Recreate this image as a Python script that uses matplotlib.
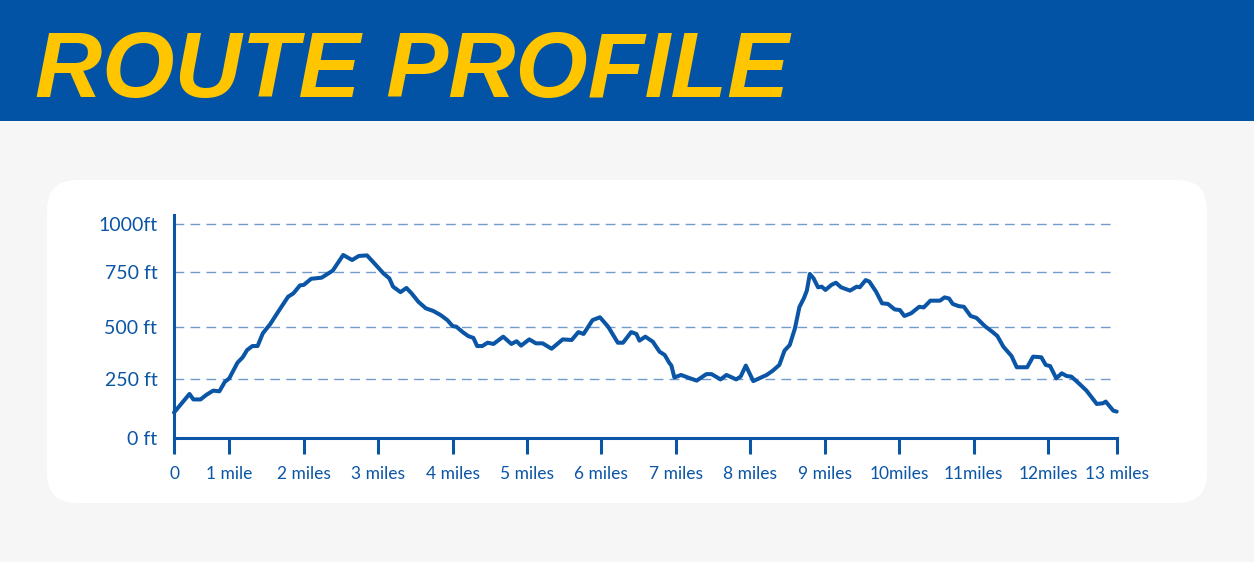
import numpy as np
import matplotlib
matplotlib.use("Agg")
import matplotlib.pyplot as plt
from matplotlib.patches import Rectangle, FancyBboxPatch
from matplotlib.transforms import IdentityTransform

# route data
miles = [0, 0.28, 0.35, 0.48, 0.59, 0.71, 0.82, 0.92, 1.0, 1.11, 1.18, 1.24, 1.31, 1.38, 1.45,
         1.55, 1.66, 1.79, 1.86, 1.95, 2.0, 2.10, 2.24, 2.39, 2.53, 2.65, 2.74, 2.85, 2.97, 3.07,
         3.15, 3.20, 3.30, 3.38, 3.45, 3.54, 3.64, 3.74, 3.84, 3.93, 4.0, 4.05, 4.14, 4.21, 4.28,
         4.33, 4.40, 4.47, 4.55, 4.68, 4.79, 4.86, 4.92, 5.03, 5.12, 5.21, 5.33, 5.48, 5.60, 5.69,
         5.76, 5.88, 5.98, 6.09, 6.22, 6.29, 6.40, 6.47, 6.51, 6.59, 6.69, 6.78, 6.85, 6.91, 6.94,
         6.98, 7.07, 7.19, 7.28, 7.41, 7.48, 7.60, 7.68, 7.81, 7.87, 7.94, 8.04, 8.22, 8.30, 8.39,
         8.46, 8.53, 8.60, 8.66, 8.72, 8.76, 8.80, 8.85, 8.91, 8.96, 9.01, 9.09, 9.15, 9.22, 9.34,
         9.43, 9.47, 9.55, 9.60, 9.69, 9.77, 9.85, 9.94, 10.01, 10.07, 10.16, 10.27, 10.33, 10.42,
         10.55, 10.61, 10.67, 10.72, 10.80, 10.87, 10.96, 11.04, 11.15, 11.25, 11.32, 11.40, 11.51,
         11.58, 11.72, 11.80, 11.91, 11.97, 12.03, 12.12, 12.20, 12.27, 12.34, 12.44, 12.56, 12.71,
         12.80, 12.84, 12.95, 13.0]
elevation_ft = [108, 186, 163, 163, 183, 200, 197, 237, 252, 327, 353, 388, 407, 407, 468,
                512, 570, 637, 652, 689, 691, 719, 724, 757, 838, 812, 833, 836, 786, 744,
                721, 683, 658, 677, 652, 614, 584, 572, 553, 530, 503, 500, 473, 455, 446,
                407, 407, 423, 417, 452, 417, 430, 409, 439, 420, 420, 394, 439, 436, 474,
                465, 530, 543, 500, 423, 423, 474, 465, 433, 452, 428, 380, 364, 327, 313,
                256, 268, 252, 242, 272, 272, 247, 268, 247, 260, 313, 240, 268, 288, 316,
                385, 412, 492, 590, 630, 665, 741, 721, 680, 683, 668, 691, 701, 680, 665,
                683, 680, 713, 706, 660, 607, 604, 579, 576, 549, 561, 591, 588, 619,
                619, 634, 629, 604, 594, 591, 549, 540, 503, 476, 455, 404, 359,
                305, 305, 356, 353, 316, 311, 252, 276, 263, 260, 233, 200, 144,
                147, 154, 116, 112]

y_ticks = [0, 250, 500, 750, 1000]
y_labels = ['0 ft', '250 ft', '500 ft', '750 ft', '1000ft']
x_ticks = list(range(14))
x_labels = ['0', '1 mile', '2 miles', '3 miles', '4 miles', '5 miles', '6 miles', '7 miles',
            '8 miles', '9 miles', '10miles', '11miles', '12miles', '13 miles']

BLUE = '#0a55a5'
HEADER = '#0253a5'
YELLOW = '#ffc600'
GRID = '#7399cf'
W, H = 1254, 562


def piecewise(xk, yk):
    # piecewise linear map, extended linearly past the ends
    xk = np.asarray(xk, float)
    yk = np.asarray(yk, float)

    def f(v):
        v = np.asarray(v, float)
        out = np.interp(v, xk, yk)
        lo = v < xk[0]
        hi = v > xk[-1]
        out = np.where(lo, yk[0] + (v - xk[0]) * (yk[1] - yk[0]) / (xk[1] - xk[0]), out)
        out = np.where(hi, yk[-1] + (v - xk[-1]) * (yk[-1] - yk[-2]) / (xk[-1] - xk[-2]), out)
        return out
    return f


# the original axis spacing is not quite even
x_mi = [0, 1, 12, 13]
x_px = [0, 55.3, 874, 942.7]
y_ft = [0, 250, 500, 750, 1000]
y_px = [0, 59.6, 111.6, 166.3, 214.6]

plt.rcParams['font.family'] = ['Lato', 'DejaVu Sans']
fig = plt.figure(figsize=(W / 100, H / 100), dpi=100)
fig.patch.set_facecolor('#f6f6f6')

# header band
fig.patches.append(Rectangle((0, (H - 120.5) / H), 1, 120.5 / H, transform=fig.transFigure,
                             facecolor=HEADER, edgecolor='none', zorder=-2))
# white card
fig.patches.append(FancyBboxPatch((47, H - 503), 1160, 323, transform=IdentityTransform(),
                                  boxstyle='round,pad=0,rounding_size=30',
                                  facecolor='white', edgecolor='none', zorder=-2))

title = fig.text(35 / W, (H - 97) / H, 'ROUTE PROFILE', color=YELLOW, fontsize=70,
                 fontweight='bold', fontstyle='italic',
                 family=['Liberation Sans', 'DejaVu Sans'], va='baseline', ha='left')
fig.canvas.draw()
tw = title.get_window_extent().width
title.set_fontsize(70 * 755 / tw)

ax = fig.add_axes([174 / W, (H - 438.3) / H, (1116.7 - 174) / W, (438.3 - 215) / H])
ax.set_facecolor('none')
ax.set_xscale('function', functions=(piecewise(x_mi, x_px), piecewise(x_px, x_mi)))
ax.set_yscale('function', functions=(piecewise(y_ft, y_px), piecewise(y_px, y_ft)))

ax.plot(miles, elevation_ft, color=BLUE, lw=2.9, solid_joinstyle='round',
        solid_capstyle='round', zorder=3, clip_on=False)

ax.set_xlim(0, 13)
ax.set_ylim(0, 1045)

for y in y_ticks[1:]:
    ax.axhline(y, color=GRID, lw=1.0, linestyle=(0, (7, 4.5)), zorder=1)

ax.set_yticks(y_ticks)
ax.set_yticklabels(y_labels)
ax.set_xticks(x_ticks)
ax.set_xticklabels(x_labels)
ax.xaxis.set_minor_locator(plt.NullLocator())
ax.yaxis.set_minor_locator(plt.NullLocator())
ax.tick_params(axis='y', length=0, pad=12, labelsize=14, labelcolor=BLUE)
ax.tick_params(axis='x', length=11.5, width=2.2, color=BLUE, pad=8.5, labelsize=12.5,
               labelcolor=BLUE, direction='out')

for side in ['top', 'right']:
    ax.spines[side].set_visible(False)
for side in ['left', 'bottom']:
    ax.spines[side].set_color(BLUE)
    ax.spines[side].set_linewidth(2.2)
    ax.spines[side].set_zorder(4)

fig.savefig('out.png', dpi=100, facecolor=fig.get_facecolor())
